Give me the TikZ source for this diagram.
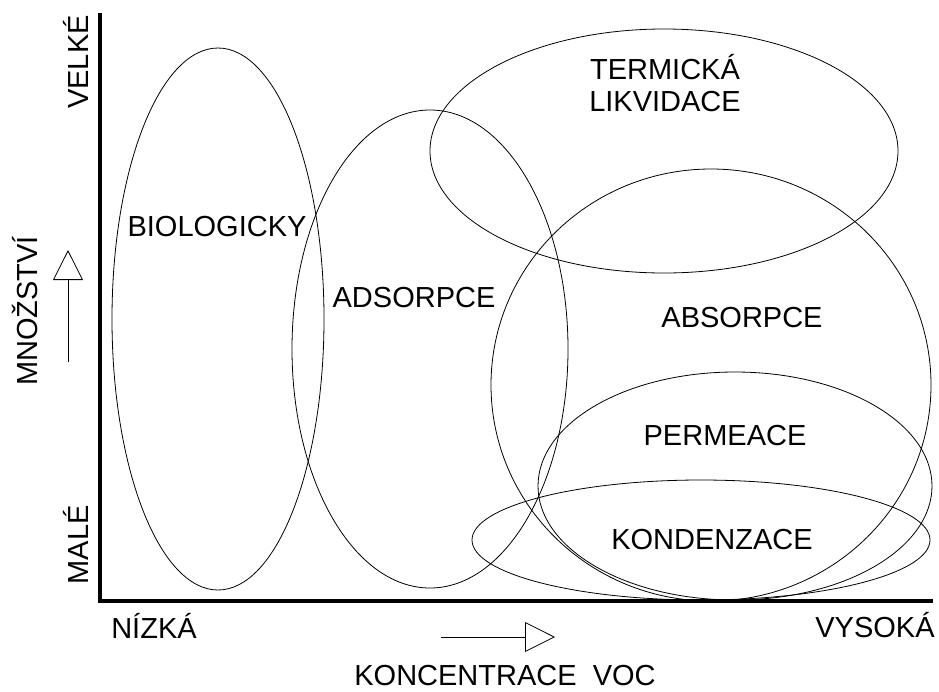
\documentclass[tikz,border=0pt]{standalone}
\usepackage{fontspec}
\setmainfont{Liberation Sans}
\usetikzlibrary{arrows.meta}
\tikzset{
  lbl/.style={font=\fontsize{29}{32}\selectfont, inner sep=0pt, anchor=base},
  oval/.style={line width=0.8pt},
  dirarrow/.style={line width=0.7pt, -{Triangle[open, length=30pt, width=30pt, line width=0.8pt]}}
}
\begin{document}
\begin{tikzpicture}[x=1pt,y=-1pt]
\useasboundingbox (0,0) rectangle (939,691);
\draw [line width=3.6pt, line join=miter] (100,13) -- (100,601) -- (933,601);
\draw [oval] (218,319) ellipse [x radius=106pt, y radius=271pt];
\draw [oval] (430,349) ellipse [x radius=138pt, y radius=239pt];
\draw [oval] (664,151) ellipse [x radius=234pt, y radius=122pt];
\draw [oval] (711,385) ellipse [x radius=220pt, y radius=216pt];
\draw [oval] (735,486) ellipse [x radius=197pt, y radius=114pt];
\draw [oval] (701,540) ellipse [x radius=229pt, y radius=60pt];
\node [lbl, rotate=90] (velke) at (88,62) {VELKÉ};
\node [lbl, rotate=90] (mnozstvi) at (37,311) {MNOŽSTVÍ};
\node [lbl, rotate=90] (male) at (88,545) {MALÉ};
\node [lbl] (nizka) at (154,638) {NÍZKÁ};
\node [lbl] (vysoka) at (875,637) {VYSOKÁ};
\node [lbl] (konc) at (505,685) {KONCENTRACE\ \ VOC};
\node [lbl] (bio) at (217,236) {BIOLOGICKY};
\node [lbl] (adso) at (414,307) {ADSORPCE};
\node [lbl] (term) at (665,79) {TERMICKÁ};
\node [lbl] (likv) at (665,111) {LIKVIDACE};
\node [lbl] (abso) at (742,327) {ABSORPCE};
\node [lbl] (perm) at (725,445) {PERMEACE};
\node [lbl] (kond) at (712,549) {KONDENZACE};
\coordinate (up0) at (68,362);
\coordinate (up1) at (68,250);
\coordinate (rt0) at (441,637);
\coordinate (rt1) at (555,637);
\draw [dirarrow] (up0) -- (up1);
\draw [dirarrow] (rt0) -- (rt1);
\end{tikzpicture}
\end{document}
